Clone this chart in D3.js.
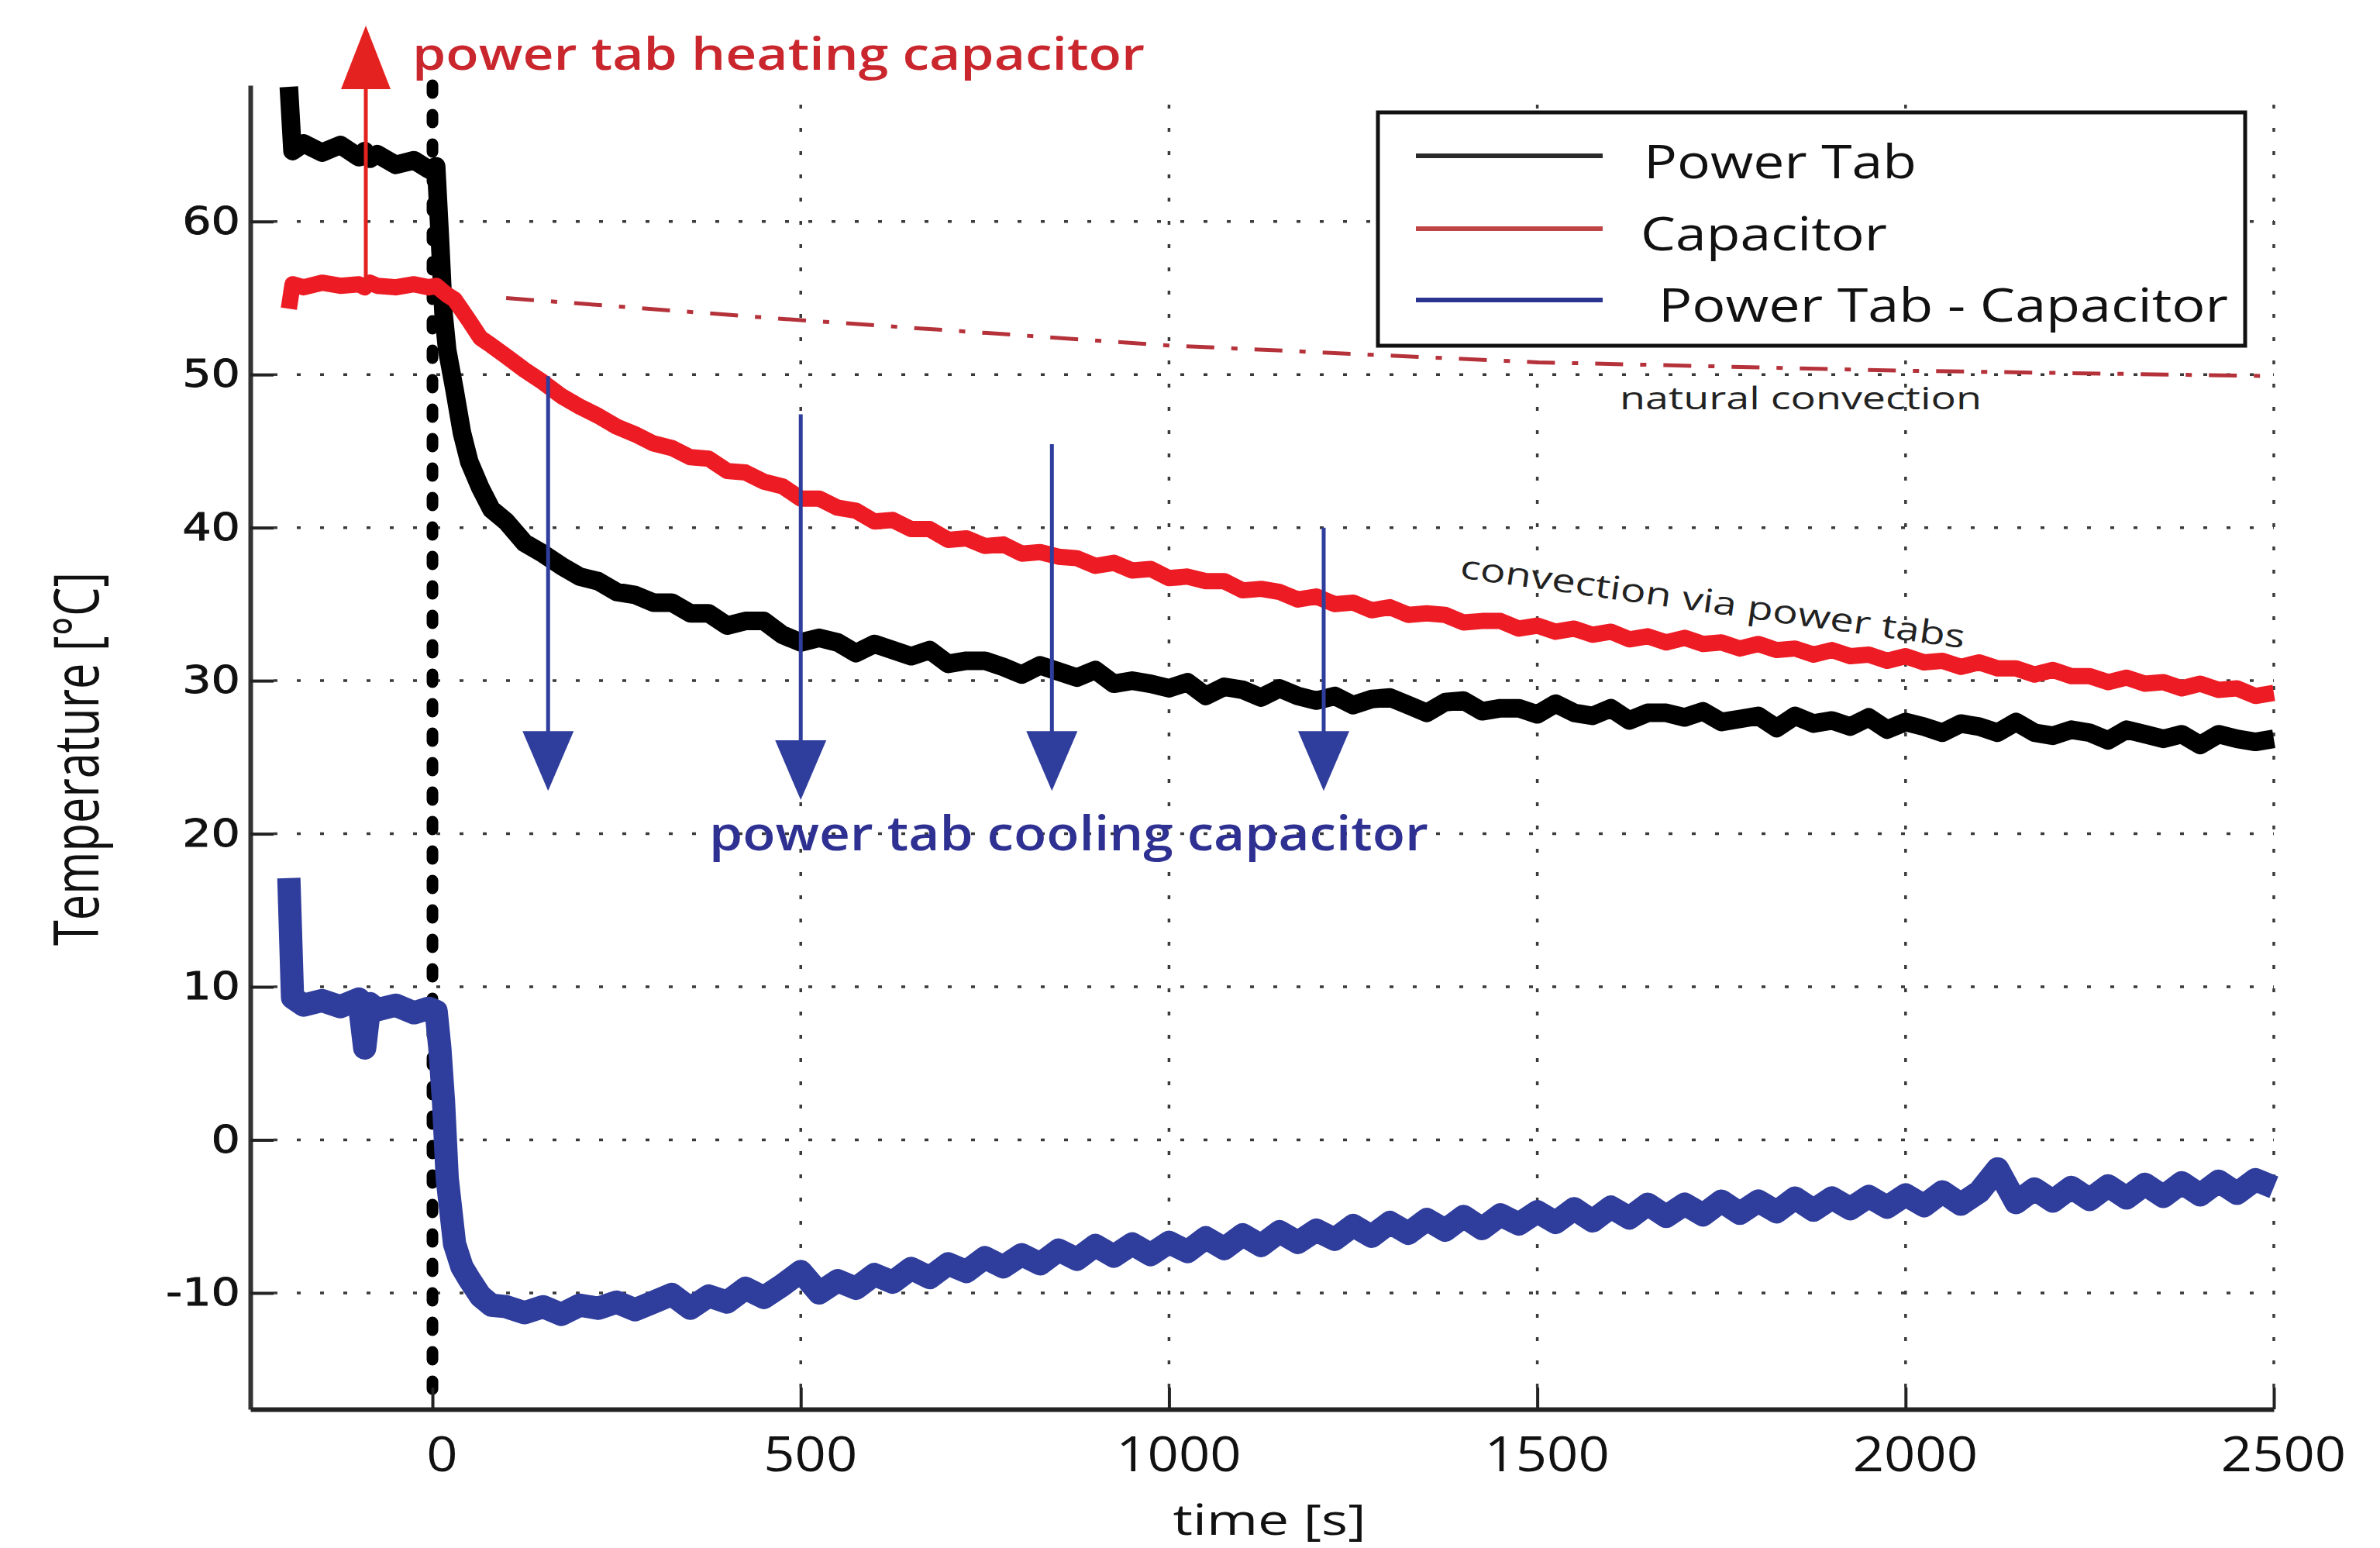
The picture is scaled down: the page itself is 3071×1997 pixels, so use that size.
<!DOCTYPE html>
<html>
<head>
<meta charset="utf-8">
<script src="https://cdn.jsdelivr.net/npm/d3@7/dist/d3.min.js"></script>
<style>
    body { margin: 0; background: #fff; }
    svg { display: block; }
</style>
</head>
<body>
<script>

//DATA
var times = [-195, -190, -175, -150, -125, -100, -92, -85, -75, -50, -25, -5, 5, 10, 15, 20, 30, 40, 50, 65, 80, 100, 125, 150, 175, 200, 225, 250, 275,
    300, 325, 350, 375, 400, 425, 450, 475, 500, 525, 550, 575, 600, 625, 650, 675, 700, 725, 750, 775, 800, 825, 850, 875, 900, 925, 950, 975,
    1000, 1025, 1050, 1075, 1100, 1125, 1150, 1175, 1200, 1225, 1250, 1275, 1300, 1325, 1350, 1375, 1400, 1425, 1450, 1475,
    1500, 1525, 1550, 1575, 1600, 1625, 1650, 1675, 1700, 1725, 1750, 1775, 1800, 1825, 1850, 1875, 1900, 1925, 1950, 1975,
    2000, 2025, 2050, 2075, 2100, 2125, 2150, 2175, 2200, 2225, 2250, 2275, 2300, 2325, 2350, 2375, 2400, 2425, 2450, 2475, 2500];

var powerTab = [68.8, 64.6, 65.1, 64.5, 65.0, 64.2, 64.6, 64.1, 64.4, 63.7, 64.0, 63.4, 63.6, 59.0, 54.0, 51.6, 49.0, 46.2, 44.3, 42.6, 41.2, 40.4, 39.0, 38.3, 37.5, 36.8, 36.5, 35.8, 35.6,
    35.1, 35.1, 34.4, 34.4, 33.6, 33.9, 33.9, 33.0, 32.5, 32.8,
    32.5, 31.8, 32.4, 32.0, 31.6, 32.0, 31.1, 31.3, 31.3, 30.9,
    30.4, 31.0, 30.6, 30.2, 30.7, 29.8, 30.0, 29.8, 29.5, 29.9,
    29.0, 29.6, 29.4, 28.9, 29.5, 29.0, 28.7, 29.0, 28.4, 28.8,
    28.9, 28.4, 27.9, 28.6, 28.7, 28.0, 28.2, 28.2, 27.8, 28.5,
    27.9, 27.7, 28.2, 27.4, 27.9, 27.9, 27.6, 28.0, 27.3, 27.5,
    27.7, 26.9, 27.7, 27.2, 27.4, 27.0, 27.6, 26.8, 27.3, 27.0,
    26.6, 27.2, 27.0, 26.6, 27.3, 26.6, 26.4, 26.8, 26.6, 26.1,
    26.8, 26.5, 26.2, 26.5, 25.8, 26.5, 26.2, 26.0, 26.2];

var capacitor = [54.3, 55.9, 55.7, 56.0, 55.8, 55.9, 55.7, 56.0, 55.8, 55.7, 55.9, 55.7, 55.8, 55.6, 55.4, 55.2, 54.9, 54.2, 53.5, 52.4, 51.9, 51.2, 50.3, 49.5, 48.6, 47.9, 47.3, 46.6, 46.1,
    45.5, 45.2, 44.6, 44.5, 43.7, 43.6, 43.0, 42.7, 41.9, 41.9,
    41.3, 41.1, 40.4, 40.5, 39.9, 39.9, 39.2, 39.3, 38.8, 38.9,
    38.3, 38.4, 38.1, 38.0, 37.5, 37.7, 37.2, 37.3, 36.7, 36.8,
    36.5, 36.5, 35.9, 36.0, 35.8, 35.3, 35.5, 35.0, 35.1, 34.6,
    34.8, 34.3, 34.4, 34.3, 33.8, 33.9, 33.9, 33.4, 33.6, 33.2,
    33.4, 33.0, 33.2, 32.7, 32.9, 32.5, 32.8, 32.4, 32.5, 32.1,
    32.4, 32.0, 32.1, 31.7, 32.0, 31.6, 31.7, 31.3, 31.6, 31.2,
    31.3, 30.9, 31.2, 30.8, 30.8, 30.4, 30.7, 30.3, 30.3, 29.9,
    30.2, 29.8, 29.9, 29.5, 29.8, 29.4, 29.5, 29.0, 29.2];

var difference = [17.1, 9.3, 8.8, 9.1, 8.7, 9.2, 6.0, 8.9, 8.5, 8.8, 8.3, 8.6, 8.4, 6.0, 2.5, -2.5, -6.8, -8.3, -9.1, -10.2, -10.8, -10.9, -11.3, -10.9, -11.4, -10.8, -11.0, -10.6, -11.1,
    -10.6, -10.1, -11.0, -10.2, -10.6, -9.7, -10.3, -9.5, -8.6, -10.0,
    -9.2, -9.7, -8.8, -9.3, -8.4, -9.0, -8.1, -8.6, -7.7, -8.3,
    -7.5, -8.1, -7.2, -7.8, -6.9, -7.6, -6.8, -7.5, -6.7, -7.3,
    -6.4, -7.1, -6.2, -6.9, -6.0, -6.7, -5.9, -6.5, -5.6, -6.3,
    -5.4, -6.1, -5.2, -5.9, -5.0, -5.8, -4.9, -5.5, -4.7, -5.4,
    -4.5, -5.3, -4.4, -5.1, -4.2, -5.0, -4.2, -4.9, -4.0, -4.8,
    -4.0, -4.7, -3.8, -4.6, -3.8, -4.5, -3.7, -4.4, -3.6, -4.3,
    -3.4, -4.2, -3.4, -1.9, -4.1, -3.2, -4.0, -3.1, -3.9, -3.0,
    -3.8, -2.9, -3.7, -2.8, -3.6, -2.7, -3.5, -2.6, -3.1];

var naturalTimes = [100, 500, 1000, 1500, 2000, 2500];
var naturalTemp = [55.0, 53.55, 51.9, 50.8, 50.25, 49.9];

var xTicks = [0, 500, 1000, 1500, 2000, 2500];
var yTicks = [-10, 0, 10, 20, 30, 40, 50, 60];
var seriesNames = ["Power Tab", "Capacitor", "Power Tab - Capacitor"];

//annotation arrows (time, start temp, tip temp)
var coolTimes = [157, 500, 841, 1210];
var coolTops = [49.9, 47.4, 45.45, 40.0];
var coolTips = [22.8, 22.2, 22.8, 22.8];
var heatTime = -90.5;
var heatFrom = 56.1;
var heatTip = 72.8;

function init(){

    //Initialize
    var w = 3071;
    var h = 1997;

    var x = d3.scaleLinear()
                .domain([-247.3, 2500])
                .range([323, 2934]);
    var y = d3.scaleLinear()
                .domain([-17.6, 68.9])
                .range([1818, 110]);

    var blue = "#2f3d9c";
    var red = "#ed1c24";
    var plain = function(d){ return String(d); };   // keep "-10" and "1000" as in the figure

    //APPEND
    var svg = d3.select("body")
                .append("svg")
                .attr("width", w)
                .attr("height", h);

    svg.append("rect").attr("width", w).attr("height", h).attr("fill", "#fff");

    //dotted grid
    var grid = svg.append("g")
                .attr("stroke", "#3a3a3a")
                .attr("stroke-width", 3.5)
                .attr("stroke-dasharray", "5,25");
    grid.selectAll("line.h")
        .data(yTicks)
        .enter()
        .append("line")
        .attr("class", "h")
        .attr("x1", x(-247.3) + 30)
        .attr("x2", x(2500))
        .attr("y1", function(d){ return y(d); })
        .attr("y2", function(d){ return y(d); });
    grid.selectAll("line.v")
        .data(xTicks.filter(function(d){ return d > 0; }))
        .enter()
        .append("line")
        .attr("class", "v")
        .attr("x1", function(d){ return x(d); })
        .attr("x2", function(d){ return x(d); })
        .attr("y1", y(-17.6) - 28)
        .attr("y2", y(68.9));

    //thick dotted marker at t = 0
    svg.append("line")
        .attr("x1", x(0)).attr("x2", x(0))
        .attr("y1", y(68.9)).attr("y2", y(-17.6))
        .attr("stroke", "#000")
        .attr("stroke-width", 15)
        .attr("stroke-linecap", "round")
        .attr("stroke-dasharray", "10,28");

    //natural convection (dash-dot)
    var line = d3.line()
                .x(function(d){ return x(d[0]); })
                .y(function(d){ return y(d[1]); });

    svg.append("path")
        .attr("d", line(naturalTimes.map(function(t, i){ return [t, naturalTemp[i]]; })))
        .attr("fill", "none")
        .attr("stroke", "#b5323a")
        .attr("stroke-width", 5)
        .attr("stroke-dasharray", "36,22,8,22");

    //measured curves
    var series = [
        {name: seriesNames[0], values: powerTab, color: "#000", width: 24},
        {name: seriesNames[1], values: capacitor, color: red, width: 21},
        {name: seriesNames[2], values: difference, color: blue, width: 30}
    ];

    svg.selectAll("path.series")
        .data(series)
        .enter()
        .append("path")
        .attr("class", "series")
        .attr("d", function(s){ return line(times.map(function(t, i){ return [t, s.values[i]]; })); })
        .attr("fill", "none")
        .attr("stroke", function(s){ return s.color; })
        .attr("stroke-width", function(s){ return s.width; })
        .attr("stroke-linejoin", "round");

    //AXES
    var yAxis = d3.axisLeft(y)
                .tickValues(yTicks)
                .tickFormat(plain)
                .tickSizeInner(-30)
                .tickSizeOuter(0)
                .tickPadding(13);
    var gy = svg.append("g")
                .attr("transform", "translate(323,0)")
                .call(yAxis);
    gy.select(".domain").attr("stroke", "#333").attr("stroke-width", 6);
    gy.selectAll(".tick line").attr("stroke", "#222").attr("stroke-width", 4);
    gy.selectAll(".tick text")
        .attr("font-family", "DejaVu Sans")
        .attr("font-size", 49)
        .attr("fill", "#111")
        .attr("stroke", "#111")
        .attr("stroke-width", 0.8)
        .attr("x", -13 / 1.2)
        .attr("transform", "scale(1.2,1)");

    var xAxis = d3.axisBottom(x)
                .tickValues(xTicks)
                .tickFormat(plain)
                .tickSizeInner(-28)
                .tickSizeOuter(0)
                .tickPadding(0);
    var gx = svg.append("g")
                .attr("transform", "translate(0,1818)")
                .call(xAxis);
    gx.select(".domain").attr("stroke", "#222").attr("stroke-width", 6);
    gx.selectAll(".tick line").attr("stroke", "#222").attr("stroke-width", 4);
    gx.selectAll(".tick text")
        .attr("font-family", "Open Sans")
        .attr("font-size", 63)
        .attr("fill", "#111")
        .attr("dy", 0)
        .attr("y", 80)
        .attr("x", 12 / 1.12)
        .attr("transform", "scale(1.12,1)");

    //axis titles
    svg.append("text")
        .attr("x", 1638).attr("y", 1980)
        .attr("text-anchor", "middle")
        .attr("font-family", "Open Sans")
        .attr("font-size", 55)
        .attr("fill", "#111")
        .attr("textLength", 249)
        .attr("lengthAdjust", "spacingAndGlyphs")
        .text("time [s]");

    svg.append("text")
        .attr("transform", "translate(127,979) rotate(-90)")
        .attr("text-anchor", "middle")
        .attr("font-family", "Open Sans")
        .attr("font-size", 80)
        .attr("fill", "#111")
        .attr("textLength", 482)
        .attr("lengthAdjust", "spacingAndGlyphs")
        .text("Temperature [°C]");

    //cooling arrows
    var arrows = svg.append("g").attr("fill", blue).attr("stroke", blue);
    coolTimes.forEach(function(t, i){
        var ax = x(t), tip = y(coolTips[i]);
        arrows.append("line")
            .attr("x1", ax).attr("x2", ax)
            .attr("y1", y(coolTops[i])).attr("y2", tip - 70)
            .attr("stroke-width", 5);
        arrows.append("path")
            .attr("d", "M" + (ax - 33) + "," + (tip - 77) + "L" + (ax + 33) + "," + (tip - 77) + "L" + ax + "," + tip + "Z")
            .attr("stroke", "none");
    });

    //heating arrow
    var hx = x(heatTime), htip = y(heatTip);
    svg.append("line")
        .attr("x1", hx).attr("x2", hx)
        .attr("y1", y(heatFrom)).attr("y2", htip + 75)
        .attr("stroke", "#e42320")
        .attr("stroke-width", 5);
    svg.append("path")
        .attr("d", "M" + (hx - 32) + "," + (htip + 82) + "L" + (hx + 32) + "," + (htip + 82) + "L" + hx + "," + htip + "Z")
        .attr("fill", "#e42320");

    //annotation texts
    svg.append("text")
        .attr("x", x(-27.4)).attr("y", y(69.91))
        .attr("font-family", "Open Sans")
        .attr("font-weight", 600)
        .attr("font-size", 57)
        .attr("fill", "#c9262d")
        .attr("textLength", 945)
        .attr("lengthAdjust", "spacingAndGlyphs")
        .text("power tab heating capacitor");

    svg.append("text")
        .attr("x", x(375.6)).attr("y", y(18.91))
        .attr("font-family", "Open Sans")
        .attr("font-weight", 600)
        .attr("font-size", 62)
        .attr("fill", "#2e3192")
        .attr("textLength", 928)
        .attr("lengthAdjust", "spacingAndGlyphs")
        .text("power tab cooling capacitor");

    svg.append("text")
        .attr("transform", "translate(" + x(1394) + "," + y(36.74) + ") rotate(8)")
        .attr("font-family", "Open Sans")
        .attr("font-size", 42)
        .attr("fill", "#222")
        .attr("textLength", 657)
        .attr("lengthAdjust", "spacingAndGlyphs")
        .text("convection via power tabs");

    svg.append("text")
        .attr("x", x(1612)).attr("y", y(47.73))
        .attr("font-family", "Open Sans")
        .attr("font-size", 41)
        .attr("fill", "#222")
        .attr("textLength", 467)
        .attr("lengthAdjust", "spacingAndGlyphs")
        .text("natural convection");

    //LEGEND
    var legend = svg.append("g");
    legend.append("rect")
        .attr("x", 1778).attr("y", 145)
        .attr("width", 1119).attr("height", 301)
        .attr("fill", "#fff")
        .attr("stroke", "#111")
        .attr("stroke-width", 5);

    var legendColors = ["#2a2a2a", "#bf4545", "#2b3590"];
    var legendRows = [201, 295, 387];
    var legendBase = [230, 323, 415];
    var legendTextX = [2121, 2117, 2140];
    var legendLen = [352, 318, 735];

    seriesNames.forEach(function(name, i){
        legend.append("line")
            .attr("x1", 1827).attr("x2", 2068)
            .attr("y1", legendRows[i]).attr("y2", legendRows[i])
            .attr("stroke", legendColors[i])
            .attr("stroke-width", 6);
        legend.append("text")
            .attr("x", legendTextX[i]).attr("y", legendBase[i])
            .attr("font-family", "Open Sans")
            .attr("font-size", 60)
            .attr("fill", "#111")
            .attr("textLength", legendLen[i])
            .attr("lengthAdjust", "spacingAndGlyphs")
            .text(name);
    });
}
window.onload = init;
</script>
</body>
</html>
